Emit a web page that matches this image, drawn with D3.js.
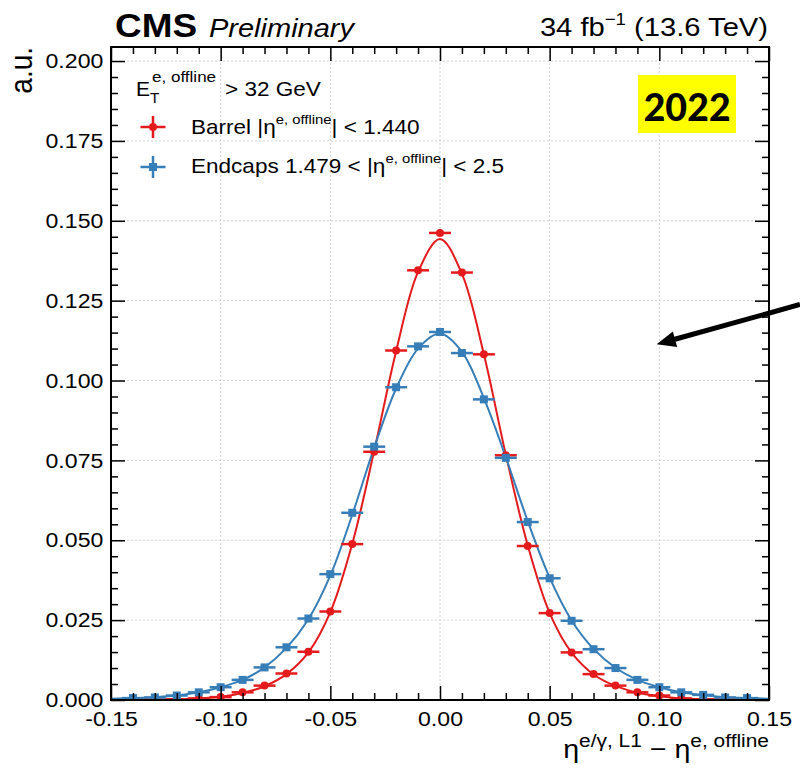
<!DOCTYPE html>
<html><head><meta charset="utf-8">
<script src="https://cdn.jsdelivr.net/npm/d3@7/dist/d3.min.js"></script>
<style>body{margin:0;background:#fff}svg{display:block}</style>
</head><body>
<svg id="c" width="800" height="775"></svg>
<script>
// ---------------- data ----------------
const binCenters = [-0.14,-0.13,-0.12,-0.11,-0.10,-0.09,-0.08,-0.07,-0.06,-0.05,-0.04,-0.03,-0.02,-0.01,0.00,
  0.01,0.02,0.03,0.04,0.05,0.06,0.07,0.08,0.09,0.10,0.11,0.12,0.13,0.14];
const barrelValues = [0.0001,0.0001,0.0002,0.0005,0.0009,0.0024,0.0045,0.0083,0.0151,0.0277,0.0488,0.0777,0.1094,0.1345,0.1462,
  0.1338,0.1082,0.0766,0.0482,0.0272,0.0149,0.0081,0.0045,0.0024,0.0014,0.0005,0.0002,0.0001,0.0001];
const endcapValues = [0.0006,0.0008,0.0014,0.0024,0.0040,0.0063,0.0102,0.0165,0.0255,0.0394,0.0586,0.0793,0.0979,0.1107,0.1152,
  0.1086,0.0941,0.0758,0.0557,0.0381,0.0248,0.0159,0.0100,0.0063,0.0040,0.0024,0.0016,0.0008,0.0006];
const binHalfWidth = 0.005;
// fitted curves
const fitX = [-0.15,-0.14,-0.13,-0.12,-0.11,-0.10,-0.09,-0.08,-0.07,-0.06,-0.05,-0.04,-0.03,-0.02,-0.01,0.00,
  0.01,0.02,0.03,0.04,0.05,0.06,0.07,0.08,0.09,0.10,0.11,0.12,0.13,0.14,0.15];
const barrelFit = [0.0000,0.0001,0.0001,0.0002,0.0005,0.0010,0.0022,0.0043,0.0081,0.0149,0.0275,0.0489,0.0780,0.1092,0.1340,0.1443,
  0.1334,0.1082,0.0768,0.0484,0.0272,0.0148,0.0080,0.0044,0.0023,0.0012,0.0005,0.0002,0.0001,0.0001,0.0000];
const endcapFit = [0.0004,0.0006,0.0009,0.0014,0.0024,0.0040,0.0063,0.0102,0.0163,0.0253,0.0390,0.0580,0.0790,0.0975,0.1100,0.1147,
  0.1090,0.0945,0.0760,0.0560,0.0383,0.0249,0.0160,0.0101,0.0063,0.0040,0.0024,0.0015,0.0009,0.0006,0.0004];
const xTicks = [-0.15,-0.10,-0.05,0.00,0.05,0.10,0.15];
const xMinorTicks = [-0.14,-0.13,-0.12,-0.11,-0.09,-0.08,-0.07,-0.06,-0.04,-0.03,-0.02,-0.01,0.01,0.02,0.03,0.04,0.06,0.07,0.08,0.09,0.11,0.12,0.13,0.14];
const yTicks = [0,0.025,0.05,0.075,0.1,0.125,0.15,0.175,0.2];
const yMinorTicks = [];
for (let i = 0; i <= 40; i++) if (i % 5) yMinorTicks.push(i * 0.005);
const seriesNames = ["Barrel", "Endcaps"];

// ---------------- layout ----------------
const FONT = "'Liberation Sans', Arial, Helvetica, sans-serif";
const SX = 1.1;
const RED = "#e41a1c", BLUE = "#377eb8";
const L = 111, R = 769, T = 47, B = 700;
const svg = d3.select("#c");
const x = d3.scaleLinear().domain([-0.15, 0.15]).range([L, R]);
const y = d3.scaleLinear().domain([0, 0.2044]).range([B, T]);

// grid
const grid = svg.append("g").attr("stroke", "#d2d2d2").attr("stroke-width", 1).attr("stroke-dasharray", "2,2");
grid.selectAll("line.gx").data(xTicks.slice(1, -1)).join("line")
  .attr("x1", d => x(d)).attr("x2", d => x(d)).attr("y1", T).attr("y2", B);
grid.selectAll("line.gy").data(yTicks.slice(1)).join("line")
  .attr("x1", L).attr("x2", R).attr("y1", d => y(d)).attr("y2", d => y(d));

// curves
const line = d3.line().x((d, i) => x(fitX[i])).y(d => y(d)).curve(d3.curveCatmullRom.alpha(0.5));
svg.append("clipPath").attr("id", "clip").append("rect").attr("x", L).attr("y", T).attr("width", R - L).attr("height", B - T);
const plot = svg.append("g").attr("clip-path", "url(#clip)");
plot.append("path").datum(barrelFit).attr("d", line).attr("fill", "none").attr("stroke", RED).attr("stroke-width", 2);
plot.append("path").datum(endcapFit).attr("d", line).attr("fill", "none").attr("stroke", BLUE).attr("stroke-width", 2);

// points
function drawPoints(vals, color, shape) {
  const g = plot.append("g");
  const pts = binCenters.map((c, i) => ({c, v: vals[i]}));
  g.selectAll("line").data(pts).join("line")
    .attr("x1", d => x(d.c - binHalfWidth)).attr("x2", d => x(d.c + binHalfWidth))
    .attr("y1", d => y(d.v)).attr("y2", d => y(d.v))
    .attr("stroke", color).attr("stroke-width", 2.5);
  if (shape === "circle") {
    g.selectAll("circle").data(pts).join("circle")
      .attr("cx", d => x(d.c)).attr("cy", d => y(d.v)).attr("r", 4).attr("fill", color);
  } else {
    g.selectAll("rect").data(pts).join("rect")
      .attr("x", d => x(d.c) - 4).attr("y", d => y(d.v) - 4).attr("width", 8).attr("height", 8).attr("fill", color);
  }
}
drawPoints(barrelValues, RED, "circle");
drawPoints(endcapValues, BLUE, "square");

// axes
function styleAxis(g) {
  g.select(".domain").remove();
  g.selectAll(".tick line").attr("stroke", "#000").attr("stroke-width", 1.5);
}
svg.append("g").attr("transform", `translate(0,${B})`)
  .call(d3.axisBottom(x).tickValues(xTicks).tickSize(-14).tickPadding(11).tickFormat(d => d.toFixed(2)))
  .call(styleAxis)
  .call(g => g.selectAll("text").attr("font-family", FONT).attr("font-size", 21).attr("fill", "#000")
    .attr("transform", `scale(${SX},1)`));
svg.append("g").attr("transform", `translate(0,${B})`)
  .call(d3.axisBottom(x).tickValues(xMinorTicks).tickSize(-7).tickFormat("")).call(styleAxis);
svg.append("g").attr("transform", `translate(0,${T})`)
  .call(d3.axisTop(x).tickValues(xTicks).tickSize(-14).tickFormat("")).call(styleAxis);
svg.append("g").attr("transform", `translate(0,${T})`)
  .call(d3.axisTop(x).tickValues(xMinorTicks).tickSize(-7).tickFormat("")).call(styleAxis);
svg.append("g").attr("transform", `translate(${L},0)`)
  .call(d3.axisLeft(y).tickValues(yTicks).tickSize(-14).tickPadding(7).tickFormat(d => d.toFixed(3)))
  .call(styleAxis)
  .call(g => g.selectAll("text").attr("font-family", FONT).attr("font-size", 21).attr("fill", "#000")
    .attr("transform", `scale(${SX},1)`));
svg.append("g").attr("transform", `translate(${L},0)`)
  .call(d3.axisLeft(y).tickValues(yMinorTicks).tickSize(-7).tickFormat("")).call(styleAxis);
svg.append("g").attr("transform", `translate(${R},0)`)
  .call(d3.axisRight(y).tickValues(yTicks).tickSize(-14).tickFormat("")).call(styleAxis);
svg.append("g").attr("transform", `translate(${R},0)`)
  .call(d3.axisRight(y).tickValues(yMinorTicks).tickSize(-7).tickFormat("")).call(styleAxis);

// frame
svg.append("rect").attr("x", L).attr("y", T).attr("width", R - L).attr("height", B - T)
  .attr("fill", "none").attr("stroke", "#000").attr("stroke-width", 2);

// ---------------- texts ----------------
function txt(px, py, size, opts = {}) {
  return svg.append("text")
    .attr("transform", `translate(${px},${py}) scale(${opts.sx || SX},1)` + (opts.rot ? ` rotate(${opts.rot})` : ""))
    .attr("font-family", opts.family || FONT).attr("font-size", size)
    .attr("text-anchor", opts.anchor || "start")
    .attr("font-weight", opts.weight || "normal")
    .attr("font-style", opts.style || "normal")
    .attr("fill", "#000");
}
function ts(t, str, size, dy) {
  t.append("tspan").attr("font-size", size).attr("dy", dy || 0).text(str);
  return t;
}

// header
txt(115, 37, 33, {weight: "bold", sx: 1.12}).text("CMS");
txt(209, 37, 25, {style: "italic", sx: 1.16}).text("Preliminary");
{
  const t = txt(768, 36, 26.5, {anchor: "end"});
  ts(t, "34 fb", 26.5, 0); ts(t, "\u22121", 17, -11); ts(t, " (13.6 TeV)", 26.5, 11);
}
// y label
txt(32, 47, 28, {anchor: "end", rot: -90, sx: 1.1}).text("a.u.");
// x label
{
  const t = txt(769, 758, 26, {anchor: "end"});
  ts(t, "\u03b7", 26, 0); ts(t, "e/\u03b3, L1", 19, -11); ts(t, " \u2212 ", 26, 11);
  ts(t, "\u03b7", 26, 0); ts(t, "e, offline", 19, -11);
}

// legend
txt(136, 96, 21, {sx: 1.0}).text("E");
txt(152, 82, 15.5).text("e, offline");
txt(150, 103, 14).text("T");
txt(225, 96, 20.5).text("> 32 GeV");

function legendMarker(cx, cy, color, shape) {
  const g = svg.append("g");
  g.append("line").attr("x1", cx - 12.5).attr("x2", cx + 12.5).attr("y1", cy).attr("y2", cy).attr("stroke", color).attr("stroke-width", 2.5);
  g.append("line").attr("x1", cx).attr("x2", cx).attr("y1", cy - 11).attr("y2", cy + 11).attr("stroke", color).attr("stroke-width", 2.5);
  if (shape === "circle") g.append("circle").attr("cx", cx).attr("cy", cy).attr("r", 4).attr("fill", color);
  else g.append("rect").attr("x", cx - 4).attr("y", cy - 4).attr("width", 8).attr("height", 8).attr("fill", color);
}
legendMarker(153, 127, RED, "circle");
legendMarker(153, 167, BLUE, "square");
{
  const t = txt(191, 134, 20.5);
  ts(t, seriesNames[0] + " |\u03b7", 20.5, 0); ts(t, "e, offline", 13.5, -10); ts(t, "| < 1.440", 20.5, 10);
  const t2 = txt(191, 173, 20.5);
  ts(t2, seriesNames[1] + " 1.479 < |\u03b7", 20.5, 0); ts(t2, "e, offline", 13.5, -10); ts(t2, "| < 2.5", 20.5, 10);
}

// 2022 badge
svg.append("rect").attr("x", 638).attr("y", 75).attr("width", 98).attr("height", 58).attr("fill", "#ffff00");
svg.append("text").attr("x", 687).attr("y", 121).attr("text-anchor", "middle")
  .attr("font-family", "Carlito, Lato, 'Open Sans', sans-serif").attr("font-weight", "bold").attr("font-size", 43)
  .attr("fill", "#000").text("2022");

// arrow (annotation)
{
  const tip = [656.7, 344.3], start = [800, 304.5];
  const dx = tip[0] - start[0], dy = tip[1] - start[1], len = Math.hypot(dx, dy);
  const ux = dx / len, uy = dy / len, nx = -uy, ny = ux;
  const hl = 19, hw = 8;
  const bx = tip[0] - hl * ux, by = tip[1] - hl * uy;
  svg.append("line").attr("x1", start[0]).attr("y1", start[1]).attr("x2", bx + 2 * ux).attr("y2", by + 2 * uy)
    .attr("stroke", "#000").attr("stroke-width", 5);
  svg.append("polygon").attr("points", [tip, [bx + hw * nx, by + hw * ny], [bx - hw * nx, by - hw * ny]].map(p => p.join(",")).join(" "))
    .attr("fill", "#000");
}
</script>
</body></html>
